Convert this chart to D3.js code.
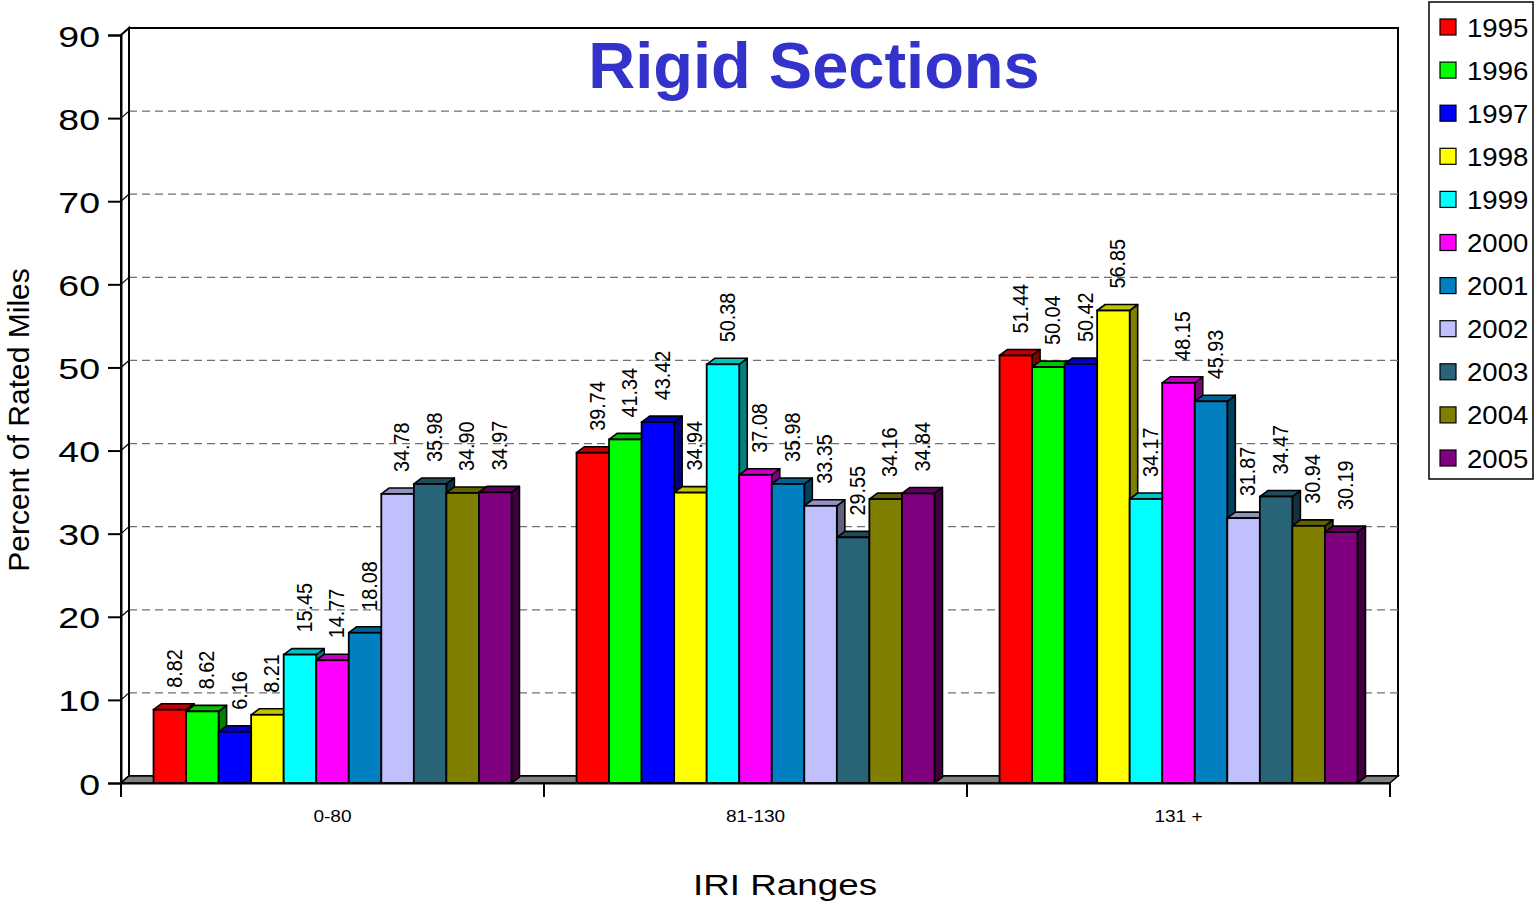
<!DOCTYPE html>
<html>
<head>
<meta charset="utf-8">
<script src="https://cdn.jsdelivr.net/npm/d3@7"></script>
<style>
  html, body { margin: 0; padding: 0; background: #fff; }
  svg { display: block; }
  text { font-family: "Liberation Sans", Arial, Helvetica, sans-serif; }
</style>
</head>
<body>
<svg id="chart" width="1537" height="903"></svg>
<script>
// ---- data ----
const categories = ["0-80", "81-130", "131 +"];
const years = ["1995","1996","1997","1998","1999","2000","2001","2002","2003","2004","2005"];
const range0to80   = [8.82, 8.62, 6.16, 8.21, 15.45, 14.77, 18.08, 34.78, 35.98, 34.90, 34.97];
const range81to130 = [39.74, 41.34, 43.42, 34.94, 50.38, 37.08, 35.98, 33.35, 29.55, 34.16, 34.84];
const range131plus = [51.44, 50.04, 50.42, 56.85, 34.17, 48.15, 45.93, 31.87, 34.47, 30.94, 30.19];
const yTicks = [0, 10, 20, 30, 40, 50, 60, 70, 80, 90];
const yearColors = ["#FF0000","#00FF00","#0000FF","#FFFF00","#00FFFF","#FF00FF","#0080C0","#C0C0FF","#296377","#808000","#800080"];

const seriesByCategory = [range0to80, range81to130, range131plus];
const rows = [];
categories.forEach((c, ci) => years.forEach((yr, yi) => rows.push({cat: c, year: yr, value: seriesByCategory[ci][yi], yi})));

// ---- layout ----
const svg = d3.select("#chart");
const plotL = 121, plotR = 1390, plotB = 783, plotT = 35;
const WDX = 8, WDY = 7;   // wall depth offset
const BDX = 8, BDY = 6;   // bar depth offset

const y = d3.scaleLinear().domain([0, 90]).range([plotB, plotT]);
const x0 = d3.scaleBand().domain(categories).range([plotL, plotR]).paddingInner(2/13).paddingOuter(1/13);
const x1 = d3.scaleBand().domain(years).range([0, x0.bandwidth()]).padding(0);
const color = d3.scaleOrdinal().domain(years).range(yearColors);

const shade = (c, k) => { const r = d3.rgb(c); return d3.rgb(r.r*k, r.g*k, r.b*k).formatHex(); };
const pts = arr => arr.map(p => p.join(",")).join(" ");

// back wall
svg.append("rect")
  .attr("x", plotL + WDX).attr("y", plotT - WDY)
  .attr("width", plotR - plotL).attr("height", plotB - plotT)
  .attr("fill", "#fff").attr("stroke", "#000").attr("stroke-width", 2);

// gridlines on back wall
svg.append("g").selectAll("line")
  .data(yTicks.filter(t => t > 0 && t < 90))
  .join("line")
  .attr("x1", plotL + WDX).attr("x2", plotR + WDX)
  .attr("y1", d => y(d) - WDY).attr("y2", d => y(d) - WDY)
  .attr("stroke", "#707070").attr("stroke-width", 1.3).attr("stroke-dasharray", "8,5");

// left side wall
svg.append("polygon")
  .attr("points", pts([[plotL, y(90)], [plotL + WDX, y(90) - WDY], [plotL + WDX, y(0) - WDY], [plotL, y(0)]]))
  .attr("fill", "#fff").attr("stroke", "#000").attr("stroke-width", 2);

// connectors from front ticks to back wall
svg.append("g").selectAll("line")
  .data(yTicks)
  .join("line")
  .attr("x1", plotL).attr("x2", plotL + WDX)
  .attr("y1", d => y(d)).attr("y2", d => y(d) - WDY)
  .attr("stroke", "#000").attr("stroke-width", 1.2);

// floor
svg.append("polygon")
  .attr("points", pts([[plotL, y(0)], [plotR, y(0)], [plotR + WDX, y(0) - WDY], [plotL + WDX, y(0) - WDY]]))
  .attr("fill", "#808080").attr("stroke", "#000").attr("stroke-width", 1.5);

// bars
const bars = svg.append("g").selectAll("g.bar")
  .data(rows)
  .join("g").attr("class", "bar");

bars.each(function(d) {
  const g = d3.select(this);
  const xl = x0(d.cat) + x1(d.year), w = x1.bandwidth();
  const yt = y(d.value), yb = y(0);
  const c = color(d.year);
  g.append("polygon")
    .attr("points", pts([[xl + w, yt], [xl + w + BDX, yt - BDY], [xl + w + BDX, yb - BDY], [xl + w, yb]]))
    .attr("fill", shade(c, 0.5)).attr("stroke", "#000").attr("stroke-width", 1.6).attr("stroke-linejoin", "round");
  g.append("polygon")
    .attr("points", pts([[xl, yt], [xl + BDX, yt - BDY], [xl + w + BDX, yt - BDY], [xl + w, yt]]))
    .attr("fill", shade(c, 0.76)).attr("stroke", "#000").attr("stroke-width", 1.6).attr("stroke-linejoin", "round");
  g.append("rect")
    .attr("x", xl).attr("y", yt).attr("width", w).attr("height", yb - yt)
    .attr("fill", c).attr("stroke", "#000").attr("stroke-width", 1.8);
});

// value labels
svg.append("g").selectAll("text")
  .data(rows)
  .join("text")
  .attr("transform", d => `translate(${x0(d.cat) + x1(d.year) + x1.bandwidth()/2 + 4},${y(d.value) - 22}) rotate(-90) scale(0.9,1)`)
  .attr("dy", "0.35em")
  .attr("font-size", 22)
  .attr("fill", "#000")
  .text(d => d.value.toFixed(2));

// y axis (front)
const yAxis = svg.append("g")
  .attr("transform", `translate(${plotL},0)`)
  .call(d3.axisLeft(y).tickValues(yTicks).tickSize(13).tickPadding(0).tickFormat(d3.format("d")));
yAxis.select(".domain").attr("stroke", "#000").attr("stroke-width", 2);
yAxis.selectAll(".tick line").attr("stroke", "#000").attr("stroke-width", 2);
yAxis.selectAll(".tick text")
  .attr("x", 0).attr("dy", null)
  .attr("transform", "translate(-21,11) scale(1.25,1)")
  .attr("text-anchor", "end")
  .attr("font-size", 30)
  .attr("font-family", "Liberation Sans, Arial, sans-serif")
  .attr("fill", "#000");

// x axis
const xAxis = svg.append("g")
  .attr("transform", `translate(0,${plotB})`)
  .call(d3.axisBottom(x0).tickSize(0).tickPadding(0));
xAxis.select(".domain").attr("stroke", "#000").attr("stroke-width", 2);
xAxis.selectAll(".tick text")
  .attr("y", 0).attr("dy", null)
  .attr("transform", "translate(0,39) scale(1.19,1)")
  .attr("font-size", 16)
  .attr("font-family", "Liberation Sans, Arial, sans-serif")
  .attr("fill", "#000");
const boundaries = d3.range(categories.length + 1).map(i => plotL + i * x0.step());
xAxis.append("g").selectAll("line")
  .data(boundaries)
  .join("line")
  .attr("x1", d => d).attr("x2", d => d)
  .attr("y1", 0).attr("y2", 14)
  .attr("stroke", "#000").attr("stroke-width", 2);

// title
svg.append("text")
  .attr("x", 814).attr("y", 88)
  .attr("text-anchor", "middle")
  .attr("font-size", 65).attr("font-weight", "bold")
  .attr("fill", "#3333CC")
  .text("Rigid Sections");

// axis titles
svg.append("text")
  .attr("transform", "translate(29,420) rotate(-90)")
  .attr("text-anchor", "middle")
  .attr("font-size", 30)
  .attr("fill", "#000")
  .text("Percent of Rated Miles");

svg.append("text")
  .attr("transform", "translate(785,895) scale(1.27,1)")
  .attr("text-anchor", "middle")
  .attr("font-size", 29)
  .attr("fill", "#000")
  .text("IRI Ranges");

// legend
const legend = svg.append("g");
legend.append("rect")
  .attr("x", 1429).attr("y", 2).attr("width", 104).attr("height", 477)
  .attr("fill", "#fff").attr("stroke", "#000").attr("stroke-width", 1.5);
const ly = d3.scalePoint().domain(years).range([27, 458]);
const li = legend.selectAll("g.item").data(years).join("g").attr("class", "item")
  .attr("transform", d => `translate(0,${ly(d)})`);
li.append("rect")
  .attr("x", 1440).attr("y", -8).attr("width", 16).attr("height", 16)
  .attr("fill", d => color(d)).attr("stroke", "#000").attr("stroke-width", 1.2);
li.append("text")
  .attr("transform", "translate(1467,9.5) scale(1.06,1)")
  .attr("font-size", 26)
  .attr("fill", "#000")
  .text(d => d);
</script>
</body>
</html>
